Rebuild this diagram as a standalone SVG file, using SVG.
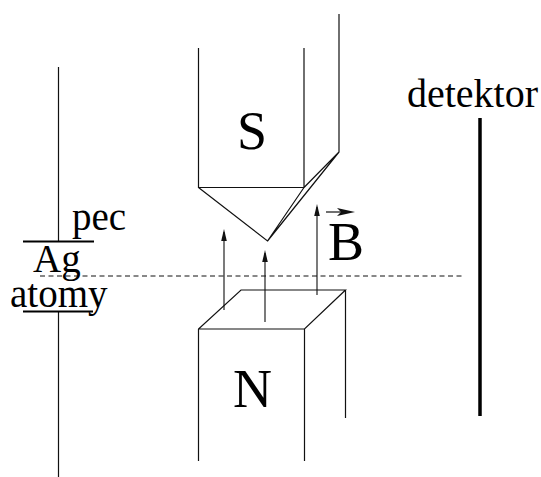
<svg xmlns="http://www.w3.org/2000/svg" width="541" height="477" viewBox="0 0 541 477">
<style>
.l{fill:none;stroke:#111;stroke-width:1.2}
.t{font-family:"Liberation Serif",serif;fill:#000}
.m{font-size:39px}
.g{font-size:54px}
.a{fill:none;stroke:#222;stroke-width:1.2}
.h{fill:#111}
</style>
<rect width="541" height="477" fill="#fff"/>
<g id="connectors">
<path class="a" d="M224 310V232"/><path class="h" d="M224 229l-2.800 12h5.600z"/>
<path class="a" d="M265 322V253"/><path class="h" d="M265 250l-2.800 12h5.600z"/>
<path class="a" d="M317 295V207"/><path class="h" d="M317 204l-2.800 12h5.600z"/>
<path d="M40 276H463" fill="none" stroke="#111" stroke-width="1" stroke-dasharray="5 3.500"/>
</g>
<g id="plate">
<path class="l" d="M58.500 67V241M58.500 312V477"/>
<path d="M23 241.500H94M23 311.500H93" fill="none" stroke="#000" stroke-width="2"/>
<text class="t m" x="72" y="230">pec</text>
<text class="t m" x="33" y="272">Ag</text>
<text class="t m" x="10" y="307">atomy</text>
</g>
<g id="magnet-s">
<path class="l" d="M198.500 48V187.500H304V48M339 14V152L304 187.500M198.500 187.500L267.500 241L304 187.500M267.500 241L339 152"/>
<text class="t g" x="237" y="149">S</text>
</g>
<g id="magnet-n">
<path class="l" d="M198.500 461V329L241 290H345.500L304.500 329H198.500M304.500 329V461M345.500 290V418"/>
<text class="t g" x="233" y="407">N</text>
</g>
<g id="field">
<text class="t g" x="328" y="260">B</text>
<path d="M326 212H345" fill="none" stroke="#111" stroke-width="1.200"/><path class="h" d="M355 212L337 208L341 212L337 216Z"/>
</g>
<g id="detector">
<text class="t" x="407" y="107" font-size="40">detektor</text>
<path d="M480 118V416" fill="none" stroke="#000" stroke-width="3.500"/>
</g>
</svg>
